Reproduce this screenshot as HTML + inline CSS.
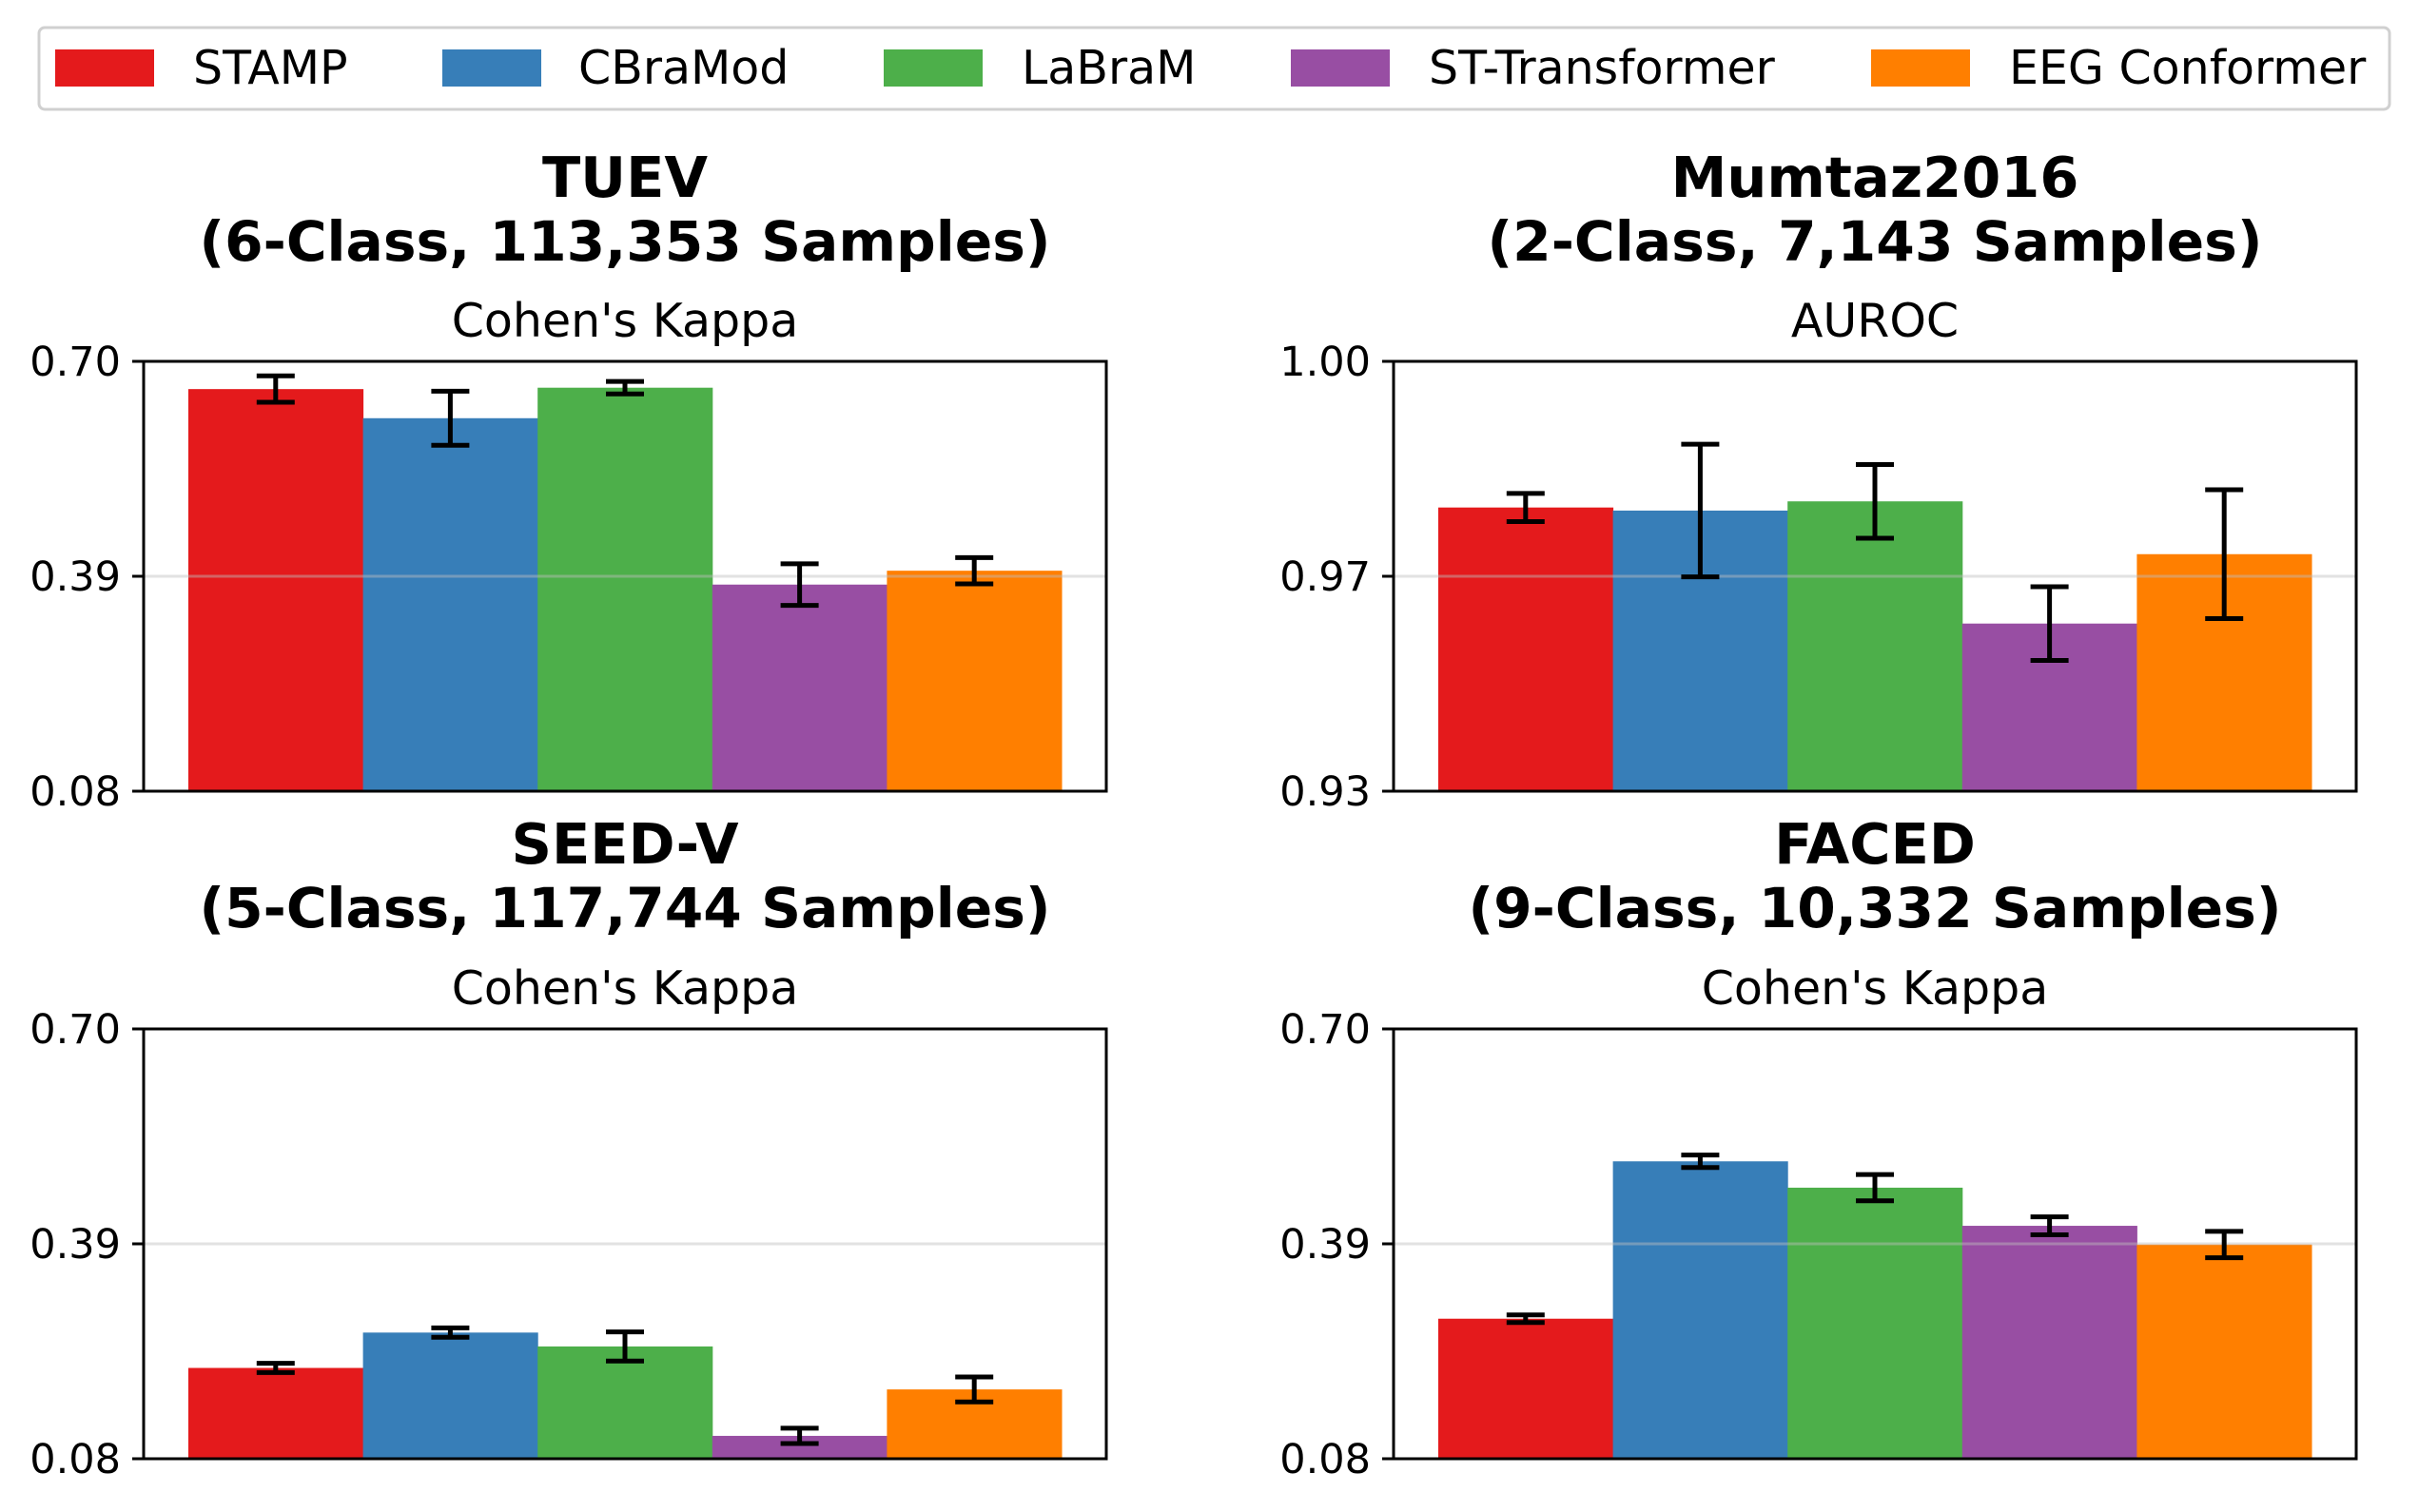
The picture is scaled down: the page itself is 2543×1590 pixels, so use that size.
<!DOCTYPE html>
<html><head><meta charset="utf-8"><style>
html,body{margin:0;padding:0;background:#fff;}
svg{display:block;font-family:"DejaVu Sans","Liberation Sans",sans-serif;}
</style></head><body>
<svg id="chart" width="2543" height="1590" viewBox="0 0 2543 1590" xmlns="http://www.w3.org/2000/svg">
<rect x="0" y="0" width="2543" height="1590" fill="#fff"/>
<g id="legend">
<rect x="41" y="29" width="2471" height="86" rx="6" fill="#fff" stroke="#d0d0d0" stroke-width="3"/>
</g>
<g id="panels"></g>
</svg>
<script>
const models = ["STAMP","CBraMod","LaBraM","ST-Transformer","EEG Conformer"];
const colors = ["#e41a1c","#377eb8","#4daf4a","#984ea3","#ff7f00"];
const tuevVals = [0.660,0.618,0.662,0.378,0.398];
const tuevErr = [0.019,0.039,0.009,0.030,0.019];
const mumtazVals = [0.9762,0.9757,0.9772,0.9573,0.9686];
const mumtazErr = [0.0023,0.0108,0.0060,0.0060,0.0105];
const seedVals = [0.211,0.262,0.242,0.113,0.180];
const seedErr = [0.0067,0.0067,0.021,0.011,0.018];
const facedVals = [0.282,0.509,0.471,0.416,0.389];
const facedErr = [0.0055,0.009,0.019,0.013,0.019];
const tuevTicks = ["0.08","0.39","0.70"];
const mumtazTicks = ["0.93","0.97","1.00"];
const kappaTicks = ["0.08","0.39","0.70"];

const NS="http://www.w3.org/2000/svg";
const svg=document.getElementById('chart');
function mk(tag,attrs,parent){const e=document.createElementNS(NS,tag);for(const k in attrs)e.setAttribute(k,attrs[k]);(parent||svg).appendChild(e);return e;}

const legG=document.getElementById('legend');
const swX=[58,465,929,1357,1967];
const txX=[203,608,1074,1502,2112];
models.forEach((m,i)=>{
  const g=mk('g',{},legG);
  
  
  mk('rect',{x:swX[i],y:52,width:104,height:39,fill:colors[i]},g);
  const t=mk('text',{x:txX[i],y:88,'font-size':49,fill:'#000'},g);t.textContent=m;
});

const panels=[
 {name:'tuev',cx:657,x0:151,x1:1163,y0:380,y1:832,t1:'TUEV',t2:'(6-Class, 113,353 Samples)',t2w:895,sub:"Cohen's Kappa",ymin:0.08,ymax:0.70,vals:tuevVals,err:tuevErr,ticks:tuevTicks,ty:[207,274,354]},
 {name:'mumtaz2016',cx:1971,x0:1465,x1:2477,y0:380,y1:832,t1:'Mumtaz2016',t2:'(2-Class, 7,143 Samples)',t2w:815,sub:'AUROC',ymin:0.93,ymax:1.00,vals:mumtazVals,err:mumtazErr,ticks:mumtazTicks,ty:[207,274,354]},
 {name:'seed-v',cx:657,x0:151,x1:1163,y0:1082,y1:1534,t1:'SEED-V',t2:'(5-Class, 117,744 Samples)',t2w:895,sub:"Cohen's Kappa",ymin:0.08,ymax:0.70,vals:seedVals,err:seedErr,ticks:kappaTicks,ty:[908,975,1056]},
 {name:'faced',cx:1971,x0:1465,x1:2477,y0:1082,y1:1534,t1:'FACED',t2:'(9-Class, 10,332 Samples)',t2w:855,sub:"Cohen's Kappa",ymin:0.08,ymax:0.70,vals:facedVals,err:facedErr,ticks:kappaTicks,ty:[908,975,1056]}
];
const pg=document.getElementById('panels');
panels.forEach(p=>{
  const g=mk('g',{},pg);
  
  
  const yS=v=>p.y1-(v-p.ymin)/(p.ymax-p.ymin)*(p.y1-p.y0);
  const t1=mk('text',{x:p.cx,y:p.ty[0],'text-anchor':'middle','font-size':59,'font-weight':'bold'},g);t1.textContent=p.t1;
  
  
  const t2=mk('text',{x:p.cx,y:p.ty[1],'text-anchor':'middle','font-size':58,'font-weight':'bold',textLength:p.t2w,lengthAdjust:'spacingAndGlyphs'},g);t2.textContent=p.t2;
  
  
  const st=mk('text',{x:p.cx,y:p.ty[2],'text-anchor':'middle','font-size':49},g);st.textContent=p.sub;
  
  
  const n=p.vals.length;
  const pad=47, bw=(p.x1-p.x0-2*pad)/n;
  p.vals.forEach((v,i)=>{
    const bx=p.x0+pad+i*bw, by=yS(v);
    const r=mk('rect',{x:bx,y:by,width:bw+0.5,height:p.y1-by,fill:colors[i]},g);
    
    
  });
  const ym=(p.y0+p.y1)/2;
  mk('line',{x1:p.x0,x2:p.x1,y1:ym,y2:ym,stroke:'rgba(190,190,190,0.45)','stroke-width':3},g);
  p.vals.forEach((v,i)=>{
    const cxb=p.x0+pad+(i+0.5)*bw, e=p.err[i];
    const eg=mk('g',{stroke:'#000','stroke-width':5},g);
    
    
    mk('line',{x1:cxb,x2:cxb,y1:yS(v+e),y2:yS(v-e)},eg);
    mk('line',{x1:cxb-20,x2:cxb+20,y1:yS(v+e),y2:yS(v+e)},eg);
    mk('line',{x1:cxb-20,x2:cxb+20,y1:yS(v-e),y2:yS(v-e)},eg);
  });
  const ax=mk('rect',{x:p.x0,y:p.y0,width:p.x1-p.x0,height:p.y1-p.y0,fill:'none',stroke:'#000','stroke-width':3},g);
  
  
  p.ticks.forEach((lab,i)=>{
    const y=p.y1-i*(p.y1-p.y0)/(p.ticks.length-1);
    mk('line',{x1:p.x0-12,x2:p.x0,y1:y,y2:y,stroke:'#000','stroke-width':3},g);
    const t=mk('text',{x:p.x0-24,y:y+15,'text-anchor':'end','font-size':43},g);t.textContent=lab;
    
    
  });
});
</script>
</body></html>
